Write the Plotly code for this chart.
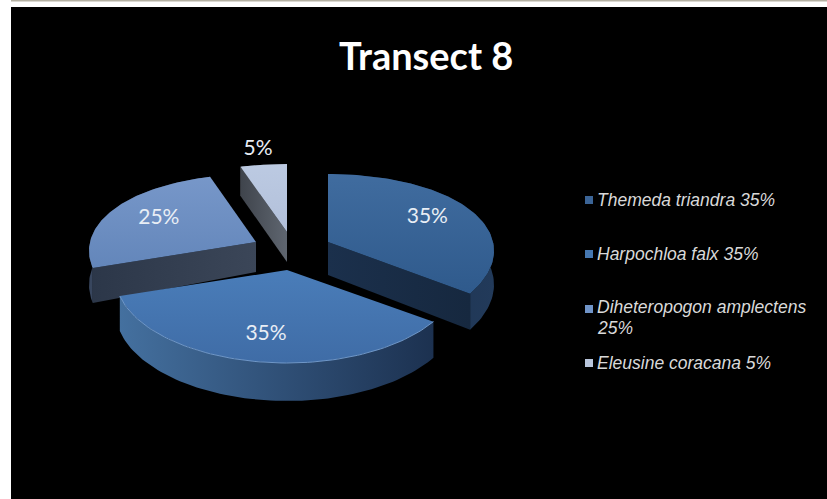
import numpy as np
import plotly.graph_objects as go

# ---- data ----
species = ["Themeda triandra", "Harpochloa falx", "Diheteropogon amplectens", "Eleusine coracana"]
shares = [35, 35, 25, 5]
title_text = "Transect 8"

# ---- styles / layout ----
top_colors = [("#2f5a8c", "#406c9f"), ("#3f6ca6", "#4a7db9"), ("#6386ba", "#7797c9"), ("#b2c0da", "#bccae2")]
rim_colors = [("#1a2f4b", "#223a5a"), ("#44709f", "#1c3150"), ("#38465e", "#38465e"), ("#555a62", "#555a62")]
cut_colors = [("#1b304c", "#16283f"), None, ("#2c3749", "#3b4658"), ("#3f444c", "#5f6670")]
legend_marker = ["#3b6496", "#4577b0", "#7094c8", "#b9c6dc"]
apex = [(328, 242), (287, 270), (256, 242), (287, 232)]
apex_depth = [33, 33, 30, 30]
radius_x = [165, 170, 166, 168]
cut_angle = [126, None, 252, 342]
label_frac = [0.7, 0.73, 0.68, 1.28]
legend_rows = [(200,), (254,), (307, 328), (363,)]
FONT_LABEL = "Lato, Carlito, sans-serif"
FONT_LEG = "Liberation Sans, Arial, sans-serif"


def proj(theta_deg, ax, ay, rx, r=1.0):
    t = np.radians(theta_deg)
    v = -np.cos(t) * r
    s = np.sin(t) * r
    x = ax + rx * s * (1 + 0.11 * v)
    y = ay + 80.5 * v + 12.5 * v ** 2
    return x, y


def depth(theta_deg):
    return 33.5 + 4.5 * (-np.cos(np.radians(theta_deg)))


def poly(fig, xs, ys, c0, c1, kind="horizontal"):
    fig.add_trace(go.Scatter(
        x=list(xs), y=list(ys), mode="lines", fill="toself",
        line=dict(width=0, color=c1), hoverinfo="skip", showlegend=False,
        fillgradient=dict(type=kind, colorscale=[[0, c0], [1, c1]]),
    ))


fig = go.Figure()

edges = np.concatenate([[0], np.cumsum(shares)]) / np.sum(shares) * 360
spans = [(edges[i], edges[i + 1]) for i in range(len(shares))]

for i in [3, 2, 0, 1]:
    a0, a1 = spans[i]
    ax, ay = apex[i]
    th = np.linspace(a0, a1, 80)
    rx, ry = proj(th, ax, ay, radius_x[i])
    # rim
    poly(fig, np.r_[rx, rx[::-1]], np.r_[ry, (ry + depth(th))[::-1]], *rim_colors[i])
    # cut face
    if cut_angle[i] is not None:
        ex, ey = proj(cut_angle[i], ax, ay, radius_x[i])
        d = depth(cut_angle[i])
        poly(fig, [ax, ex, ex, ax], [ay, ey, ey + d, ay + apex_depth[i]], *cut_colors[i])
    # top surface
    poly(fig, np.r_[ax, rx], np.r_[ay, ry], *top_colors[i], kind="vertical")
    if i == 1:
        fig.add_trace(go.Scatter(x=rx, y=ry, mode="lines", line=dict(color="#6f97c8", width=1),
                                 hoverinfo="skip", showlegend=False))

# slice labels
for i, s in enumerate(shares):
    mid = (spans[i][0] + spans[i][1]) / 2
    lx, ly = proj(mid, apex[i][0], apex[i][1], radius_x[i], label_frac[i])
    fig.add_trace(go.Scatter(x=[lx], y=[ly], mode="text", text=[f"{s}%"], textposition="middle center",
                             textfont=dict(family=FONT_LABEL, size=21, color="#e9eef5"),
                             hoverinfo="skip", showlegend=False))

# legend
for name, s, col, rows in zip(species, shares, legend_marker, legend_rows):
    lines = [f"{name} {s}%"] if len(rows) == 1 else [name, f"{s}%"]
    fig.add_trace(go.Scatter(x=[589], y=[rows[0] + (2 if len(rows) > 1 else 0)], mode="markers",
                             marker=dict(symbol="square", size=8, color=col, line=dict(width=0)),
                             hoverinfo="skip", showlegend=False))
    for row_y, line in zip(rows, lines):
        fig.add_annotation(x=595, y=row_y, xref="x", yref="y", text=f"<i>{line}</i>", showarrow=False,
                           xanchor="left", yanchor="middle", align="left",
                           font=dict(family=FONT_LEG, size=17.5, color="#d9d9d9"))

fig.add_annotation(x=426, y=55, xref="x", yref="y", text=f"<b>{title_text}</b>", showarrow=False,
                   font=dict(family=FONT_LABEL, size=38, color="#ffffff"))

fig.update_layout(
    width=827, height=499, margin=dict(l=0, r=0, t=0, b=0),
    paper_bgcolor="#ffffff", plot_bgcolor="#ffffff", showlegend=False,
    xaxis=dict(range=[0, 827], visible=False, fixedrange=True),
    yaxis=dict(range=[499, 0], visible=False, fixedrange=True),
    shapes=[
        dict(type="rect", xref="x", yref="y", x0=11, x1=827, y0=7, y1=499, fillcolor="#000000",
             line=dict(width=0), layer="below"),
        dict(type="rect", xref="x", yref="y", x0=11, x1=827, y0=0, y1=1.5, fillcolor="#b5b1a3",
             line=dict(width=0), layer="below"),
    ],
)
fig.write_html("out.html", config=dict(displayModeBar=False),
               post_script="document.body.style.margin='0';")
